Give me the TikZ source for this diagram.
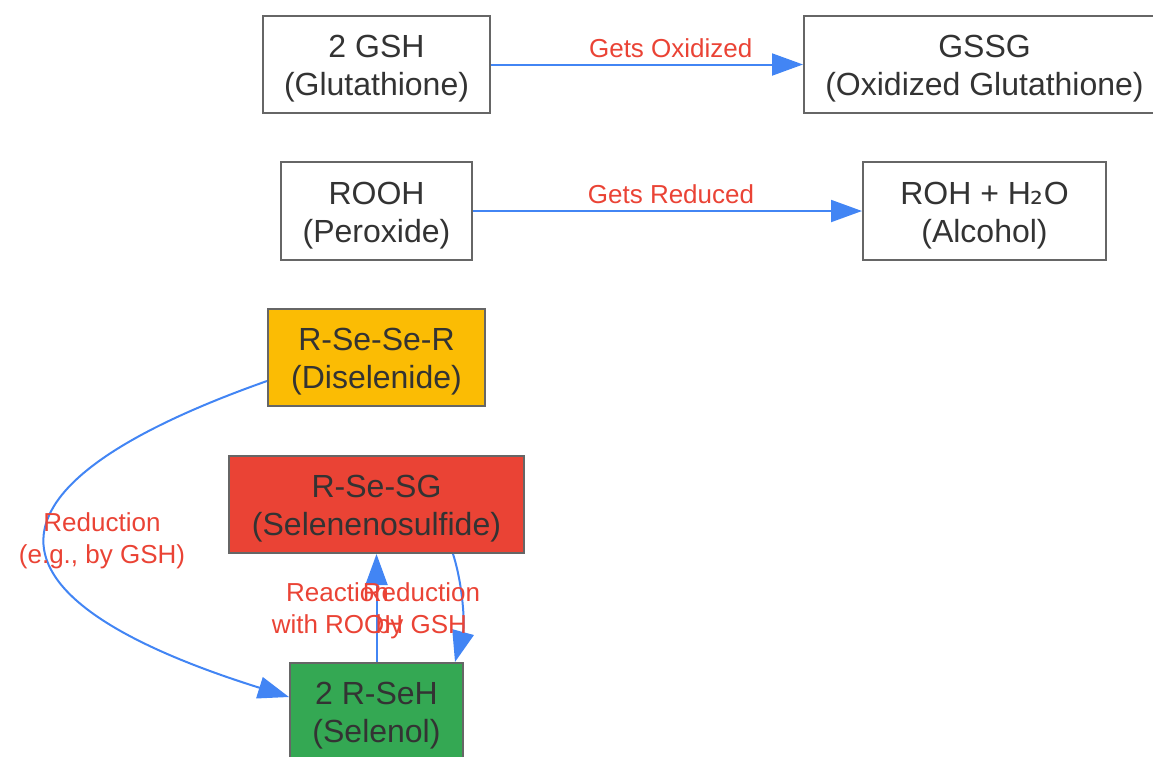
\documentclass[tikz,border=0pt]{standalone}
\usepackage{fontspec}
\setmainfont{Liberation Sans}
\newfontfamily\dejavu{DejaVu Sans}
\usetikzlibrary{arrows.meta}
\definecolor{bord}{HTML}{666666}
\definecolor{edgeblue}{HTML}{4285F4}
\definecolor{lblred}{HTML}{EA4335}
\definecolor{fillred}{HTML}{EA4335}
\definecolor{fillyel}{HTML}{FBBC04}
\definecolor{fillgrn}{HTML}{34A853}
\definecolor{txt}{HTML}{333333}
\newcommand{\topstrut}{\rule{0pt}{31pt}}
\begin{document}
\begin{tikzpicture}[x=1pt,y=-1pt,
  box/.style={draw=bord, line width=2pt, inner sep=0pt, align=center, text=txt,
    font=\fontsize{32}{38}\selectfont},
  conn/.style={draw=edgeblue, line width=2pt, -{Triangle[length=31pt,width=22pt]}},
  lbl/.style={text=lblred, align=center, font=\fontsize{26}{32}\selectfont, inner sep=0pt}]
\useasboundingbox (0,0) rectangle (1153,756);
\clip (0,0) rectangle (1153,756);
% nodes
\node[box, minimum width=227pt, minimum height=97pt] (gsh) at (376.5,64.5) {\topstrut 2 GSH\\(Glutathione)};
\node[box, minimum width=361pt, minimum height=97pt] (gssg) at (984.5,64.5) {\topstrut GSSG\\(Oxidized Glutathione)};
\node[box, minimum width=191pt, minimum height=98pt] (rooh) at (376.5,211) {\topstrut ROOH\\(Peroxide)};
\node[box, minimum width=243pt, minimum height=98pt] (roh) at (984.5,211) {\topstrut ROH + H{\dejavu ₂}O\\(Alcohol)};
\node[box, fill=fillyel, minimum width=217pt, minimum height=97pt] (dis) at (376.5,357.5) {\topstrut R-Se-Se-R\\(Diselenide)};
\node[box, fill=fillred, minimum width=295pt, minimum height=97pt] (ses) at (376.5,504.5) {\topstrut R-Se-SG\\(Selenenosulfide)};
\node[box, fill=fillgrn, minimum width=173pt, minimum height=97pt] (sel) at (376.5,711.5) {\topstrut 2 R-SeH\\(Selenol)};
% connectors
\draw[conn] (gsh.east) -- node[lbl, pos=0.576, yshift=16.5pt] {Gets Oxidized} (gssg.west);
\draw[conn] (rooh.east) -- node[lbl, pos=0.509, yshift=16.5pt] {Gets Reduced} (roh.west);
\draw[conn] ([yshift=-23.5pt]dis.west) .. controls (-30,486) and (-30,597) .. ([yshift=14.5pt]sel.west)
  node[lbl, pos=0.5, xshift=55pt] {Reduction\\(e.g., by GSH)};
\draw[conn] (sel.north) -- node[lbl, xshift=-39pt] {Reaction\\with ROOH} (ses.south);
\draw[conn] ([xshift=76.5pt]ses.south) .. controls (463,585) and (465,625) .. ([xshift=78.5pt]sel.north)
  node[lbl, pos=0.5, xshift=-40pt, yshift=-5pt] {Reduction\\by GSH};
\end{tikzpicture}
\end{document}
